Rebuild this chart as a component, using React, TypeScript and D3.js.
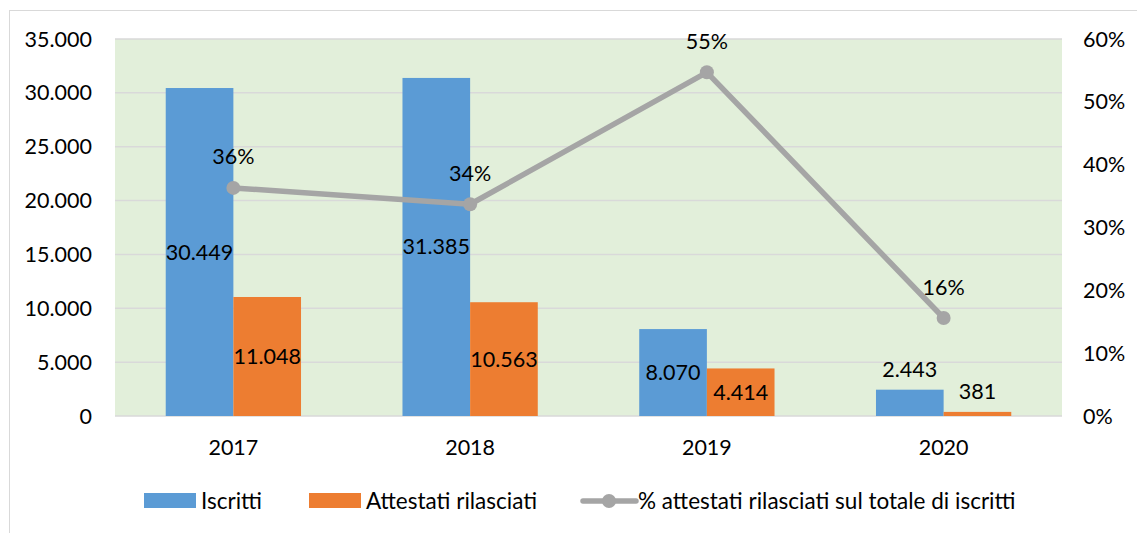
import React, { useEffect, useRef } from 'react';
import * as d3 from 'd3';

const years = ['2017', '2018', '2019', '2020'];
const iscritti = [30449, 31385, 8070, 2443];
const attestati = [11048, 10563, 4414, 381];
const percentuali = [36.3, 33.7, 54.7, 15.6];
const leftTicks = [0, 5000, 10000, 15000, 20000, 25000, 30000, 35000];
const rightTicks = [0, 10, 20, 30, 40, 50, 60];

const W = 1137;
const H = 533;
const FONT = 'Lato, "Open Sans", sans-serif';
const FS = 21.5;

const fmt = (v: number) => d3.format(',')(v).replace(/,/g, '.');

function App() {
  const ref = useRef<SVGSVGElement>(null);

  useEffect(() => {
    const svg = d3.select(ref.current);
    svg.selectAll('*').remove();

    const left = 115, right = 1062, top = 39, bottom = 416;

    // outer chart frame
    svg.append('rect')
      .attr('x', 9.5).attr('y', 10.5)
      .attr('width', W + 20).attr('height', H + 20)
      .attr('fill', 'white').attr('stroke', '#d9d9d9');

    svg.append('rect')
      .attr('x', left).attr('y', top)
      .attr('width', right - left).attr('height', bottom - top)
      .attr('fill', '#e2efda');

    const x = d3.scaleBand().domain(years).range([left, right]).padding(0);
    const inner = d3.scaleBand().domain(['a', 'b']).range([0, x.bandwidth()])
      .paddingInner(0).paddingOuter(0.75);
    const y = d3.scaleLinear().domain([0, 35000]).range([bottom, top]);
    const y2 = d3.scaleLinear().domain([0, 60]).range([bottom, top]);

    // gridlines
    svg.append('g').selectAll('line').data(leftTicks).enter().append('line')
      .attr('x1', left).attr('x2', right)
      .attr('y1', d => y(d)).attr('y2', d => y(d))
      .attr('stroke', '#d9d9d9').attr('stroke-width', 1.5);

    // left ticks
    svg.append('g').selectAll('text').data(leftTicks).enter().append('text')
      .attr('x', 92).attr('y', d => y(d))
      .attr('dy', '0.35em').attr('text-anchor', 'end')
      .attr('font-family', FONT).attr('font-size', FS).attr('fill', '#000')
      .text(d => fmt(d));

    // right ticks
    svg.append('g').selectAll('text').data(rightTicks).enter().append('text')
      .attr('x', 1083).attr('y', d => y2(d))
      .attr('dy', '0.35em').attr('text-anchor', 'start')
      .attr('font-family', FONT).attr('font-size', FS).attr('fill', '#000')
      .text(d => d + '%');

    // x labels
    svg.append('g').selectAll('text').data(years).enter().append('text')
      .attr('x', d => (x(d) as number) + x.bandwidth() / 2).attr('y', 447)
      .attr('dy', '0.35em').attr('text-anchor', 'middle')
      .attr('font-family', FONT).attr('font-size', FS).attr('fill', '#000')
      .text(d => d);

    const series = [
      { key: 'a', values: iscritti, color: '#5b9bd5' },
      { key: 'b', values: attestati, color: '#ed7d31' },
    ];

    series.forEach(s => {
      const g = svg.append('g');
      g.selectAll('rect').data(s.values).enter().append('rect')
        .attr('x', (d, i) => (x(years[i]) as number) + (inner(s.key) as number))
        .attr('y', d => y(d))
        .attr('width', inner.bandwidth())
        .attr('height', d => bottom - y(d))
        .attr('fill', s.color);
      g.selectAll('text').data(s.values).enter().append('text')
        .attr('x', (d, i) => (x(years[i]) as number) + (inner(s.key) as number) + inner.bandwidth() / 2)
        .attr('y', d => (bottom - y(d) < 40 ? y(d) - 20 : (y(d) + bottom) / 2))
        .attr('dy', '0.35em').attr('text-anchor', 'middle')
        .attr('font-family', FONT).attr('font-size', FS).attr('fill', '#000')
        .text(d => fmt(d));
    });

    // line
    const cx = (i: number) => (x(years[i]) as number) + x.bandwidth() / 2;
    const line = d3.line<number>().x((d, i) => cx(i)).y(d => y2(d));
    svg.append('path').datum(percentuali)
      .attr('d', line).attr('fill', 'none')
      .attr('stroke', '#a5a5a5').attr('stroke-width', 5.5)
      .attr('stroke-linejoin', 'round');
    svg.append('g').selectAll('circle').data(percentuali).enter().append('circle')
      .attr('cx', (d, i) => cx(i)).attr('cy', d => y2(d)).attr('r', 7)
      .attr('fill', '#a5a5a5');
    svg.append('g').selectAll('text').data(percentuali).enter().append('text')
      .attr('x', (d, i) => cx(i)).attr('y', d => y2(d) - 31)
      .attr('dy', '0.35em').attr('text-anchor', 'middle')
      .attr('font-family', FONT).attr('font-size', FS).attr('fill', '#000')
      .text(d => Math.round(d) + '%');

    // legend
    const lg = svg.append('g').attr('font-family', FONT).attr('font-size', 22.5);
    lg.append('rect').attr('x', 144).attr('y', 493).attr('width', 52).attr('height', 15).attr('fill', '#5b9bd5');
    lg.append('text').attr('x', 201).attr('y', 501).attr('dy', '0.35em').text('Iscritti');
    lg.append('rect').attr('x', 309).attr('y', 493).attr('width', 52).attr('height', 15).attr('fill', '#ed7d31');
    lg.append('text').attr('x', 366).attr('y', 501).attr('dy', '0.35em').text('Attestati rilasciati');
    lg.append('line').attr('x1', 583).attr('x2', 636).attr('y1', 501).attr('y2', 501)
      .attr('stroke', '#a5a5a5').attr('stroke-width', 5.5).attr('stroke-linecap', 'round');
    lg.append('circle').attr('cx', 609).attr('cy', 501).attr('r', 7).attr('fill', '#a5a5a5');
    lg.append('text').attr('x', 638).attr('y', 501).attr('dy', '0.35em').text('% attestati rilasciati sul totale di iscritti');
  }, []);

  return (
    <svg ref={ref} width={W} height={H} style={{ position: 'absolute', left: 0, top: 0 }} />
  );
}

export default App;
